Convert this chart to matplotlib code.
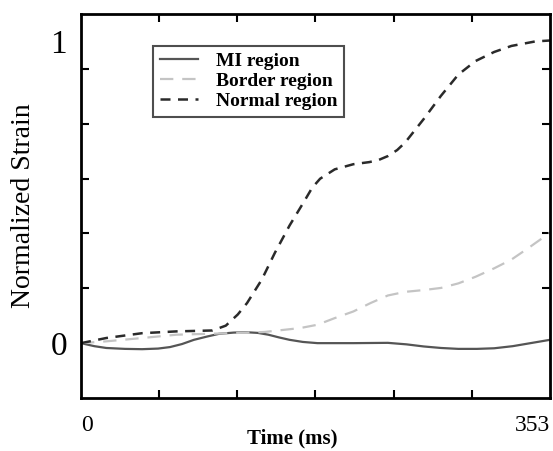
import matplotlib
matplotlib.use('Agg')
from matplotlib import pyplot as plt

# values (time in ms, normalized strain)
t_normal = [0, 19, 46, 72, 99, 109, 118, 125, 136, 146, 157, 168, 174, 180, 191,
            205, 217, 224, 231, 238, 244, 258, 271, 284, 297, 311, 324, 342, 353]
normal = [0, 0.017, 0.033, 0.039, 0.042, 0.058, 0.095, 0.133, 0.21, 0.30, 0.39,
          0.47, 0.515, 0.545, 0.576, 0.593, 0.600, 0.607, 0.62, 0.64, 0.665, 0.743,
          0.82, 0.89, 0.935, 0.965, 0.985, 1.0, 1.003]

t_border = [0, 19, 46, 72, 112, 138, 165, 178, 191, 205, 218, 231, 244, 258, 271,
            284, 297, 311, 324, 337, 353]
border = [0, 0.006, 0.017, 0.028, 0.033, 0.037, 0.05, 0.061, 0.083, 0.105, 0.133,
          0.158, 0.170, 0.176, 0.183, 0.198, 0.220, 0.248, 0.277, 0.316, 0.366]

t_mi = [0, 10, 19, 33, 46, 58, 67, 76, 85, 95, 104, 115, 125, 133, 141, 149, 157,
        167, 178, 205, 231, 245, 258, 271, 284, 298, 311, 325, 337, 353]
mi = [0, -0.010, -0.016, -0.019, -0.020, -0.018, -0.013, -0.003, 0.011, 0.022,
      0.031, 0.035, 0.036, 0.034, 0.028, 0.019, 0.011, 0.004, 0, 0, 0.001,
      -0.004, -0.011, -0.016, -0.019, -0.019, -0.017, -0.010, -0.001, 0.011]

plt.rcParams['font.family'] = ['Liberation Serif', 'DejaVu Serif']

fig = plt.figure(figsize=(5.53, 4.51), dpi=100)
ax = fig.add_axes([0.1465, 0.1175, 0.848, 0.8515])

ax.plot(t_mi, mi, c='#555555', lw=1.6, label='MI region')
ax.plot(t_border, border, c='#c4c4c4', lw=1.6, dashes=(6, 4), label='Border region')
ax.plot(t_normal, normal, c='#2a2a2a', lw=1.8, dashes=(4, 3), label='Normal region')

step = 1 / 5.5
ax.set_xlim(0, 353)
ax.set_ylim(-step, 6 * step)

ax.set_xticks([0, 353])
ax.set_xticklabels(['0', '353'], fontsize=17)
ax.set_xticks([353 * k / 6 for k in range(1, 6)], minor=True)
ax.set_yticks([0, 1])
ax.set_yticklabels(['0', '1'], fontsize=24)
ax.set_yticks([k * step for k in range(0, 6)], minor=True)
ax.tick_params(which='major', length=0)
ax.tick_params(axis='x', which='major', pad=12)
ax.tick_params(axis='y', which='major', pad=10)
ax.tick_params(which='minor', direction='in', length=6, width=1.5,
               top=True, right=True)
labels = ax.get_xticklabels()
labels[0].set_ha('left')
labels[1].set_ha('right')

for s in ax.spines.values():
    s.set_linewidth(2)

ax.set_xlabel('Time (ms)', fontsize=15, fontweight='bold')
ax.xaxis.set_label_coords(0.45, -0.08)
ax.set_ylabel('Normalized Strain', fontsize=20)
ax.yaxis.set_label_coords(-0.095, 0.5)

leg = ax.legend(loc='upper left', bbox_to_anchor=(0.153, 0.917), borderaxespad=0,
                prop={'size': 14, 'weight': 'bold'}, frameon=True, fancybox=False,
                handlelength=2.0, handletextpad=0.9, labelspacing=0.12,
                borderpad=0.35)
leg.get_frame().set_edgecolor('#222222')
leg.get_frame().set_linewidth(1.5)

fig.savefig('out.png', dpi=100)
